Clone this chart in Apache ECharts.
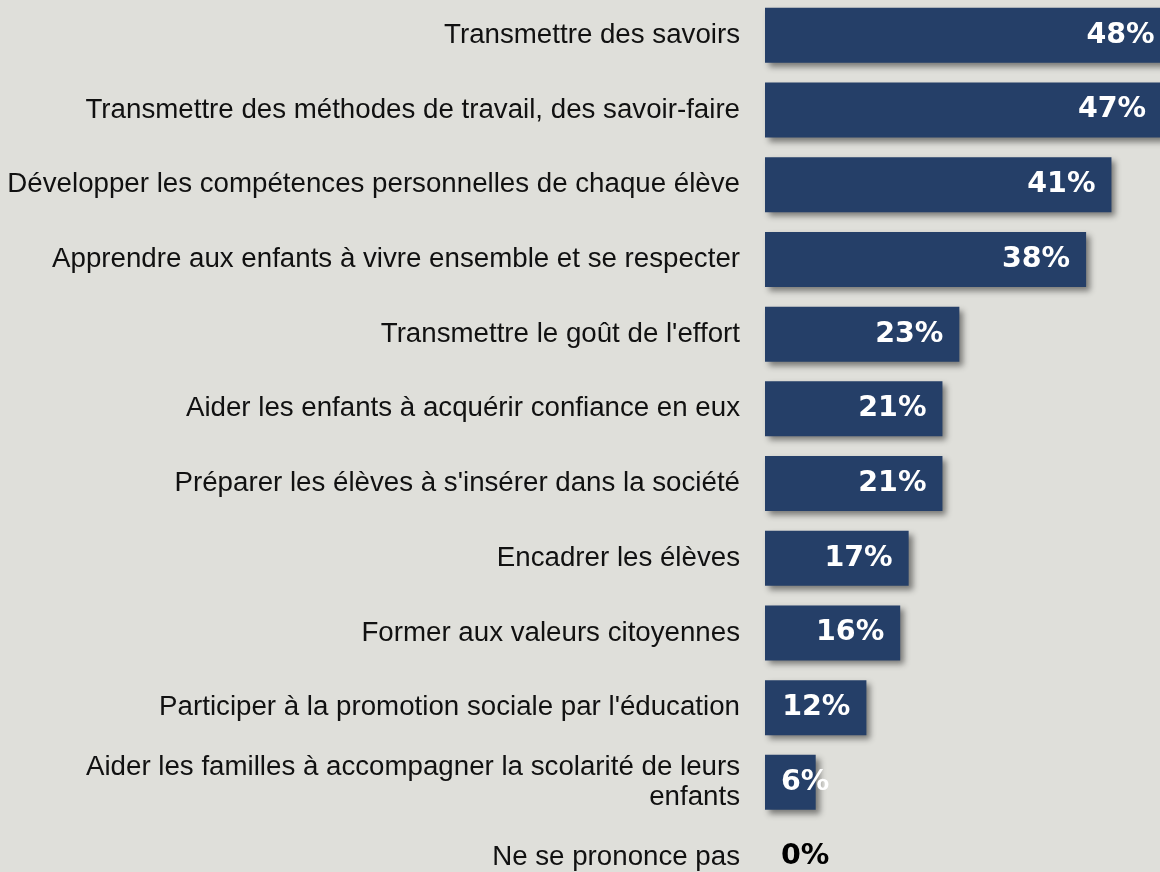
<!DOCTYPE html>
<html>
<head>
<meta charset="utf-8">
<script src="https://cdn.jsdelivr.net/npm/echarts@6/dist/echarts.min.js"></script>
<style>
    html, body { margin: 0; padding: 0; background: #dfdfda; }
    #chart { width: 1160px; height: 872px; }
</style>
</head>
<body>
<div id="chart"></div>
<script>
// libellés des catégories (de haut en bas)
var categories = [
    'Transmettre des savoirs',
    'Transmettre des méthodes de travail, des savoir-faire',
    'Développer les compétences personnelles de chaque élève',
    'Apprendre aux enfants à vivre ensemble et se respecter',
    "Transmettre le goût de l'effort",
    'Aider les enfants à acquérir confiance en eux',
    "Préparer les élèves à s'insérer dans la société",
    'Encadrer les élèves',
    'Former aux valeurs citoyennes',
    "Participer à la promotion sociale par l'éducation",
    'Aider les familles à accompagner la scolarité de leurs\nenfants',
    'Ne se prononce pas'
];
// pourcentages
var values = [48, 47, 41, 38, 23, 21, 21, 17, 16, 12, 6, 0];

var myChart = echarts.init(document.getElementById('chart'));

var data = values.map(function (v) {
    var item = { value: v };
    if (v < 10) {
        // petites barres : libellé collé à gauche
        item.label = { position: 'insideLeft', distance: 16, color: v === 0 ? '#000' : '#fff' };
    }
    return item;
});

var option = {
    backgroundColor: '#dfdfda',
    animation: false,
    grid: {
        left: 765,
        top: -2,
        width: 422.5,
        height: 896.4,
        containLabel: false,
        outerBoundsMode: 'none'
    },
    xAxis: {
        type: 'value',
        min: 0,
        max: 50,
        show: false
    },
    yAxis: {
        type: 'category',
        inverse: true,
        data: categories,
        axisLine: { show: false },
        axisTick: { show: false },
        axisLabel: {
            margin: 25,
            color: '#111',
            fontFamily: 'Liberation Sans',
            fontSize: 27.7,
            lineHeight: 30,
            align: 'right'
        }
    },
    series: [
        {
            type: 'bar',
            data: data,
            barWidth: 55,
            itemStyle: {
                color: '#253f68',
                shadowColor: 'rgba(0, 0, 0, 0.45)',
                shadowBlur: 6,
                shadowOffsetX: 4,
                shadowOffsetY: 4
            },
            label: {
                show: true,
                position: 'insideRight',
                distance: 16,
                formatter: '{c}%',
                color: '#fff',
                fontFamily: 'DejaVu Sans',
                fontWeight: 'bold',
                fontSize: 28.5
            }
        }
    ]
};

myChart.setOption(option);
window.addEventListener('resize', function () {
    myChart.resize();
});
</script>
</body>
</html>
